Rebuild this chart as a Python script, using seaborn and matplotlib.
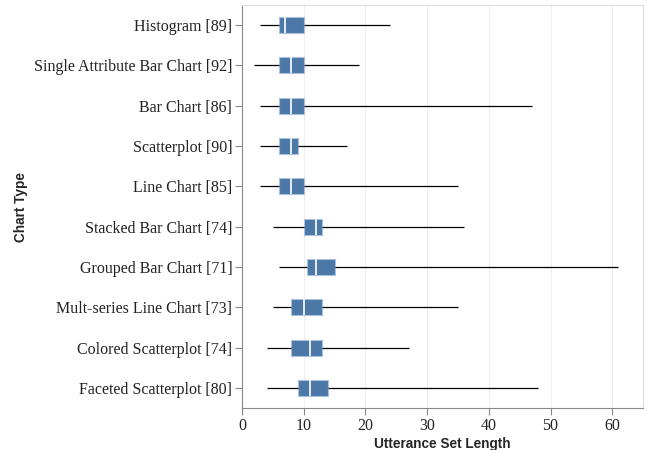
import numpy as np
import pandas as pd
import seaborn as sns
import matplotlib.pyplot as plt

# chart types (top to bottom) and five-number summaries
chart_types = [
    "Histogram [89]",
    "Single Attribute Bar Chart [92]",
    "Bar Chart [86]",
    "Scatterplot [90]",
    "Line Chart [85]",
    "Stacked Bar Chart [74]",
    "Grouped Bar Chart [71]",
    "Mult-series Line Chart [73]",
    "Colored Scatterplot [74]",
    "Faceted Scatterplot [80]",
]
mins = [3, 2, 3, 3, 3, 5, 6, 5, 4, 4]
q1s = [6, 6, 6, 6, 6, 10, 10.5, 8, 8, 9]
medians = [7, 8, 8, 8, 8, 12, 12, 10, 11, 11]
q3s = [10, 10, 10, 9, 10, 13, 15, 13, 13, 14]
maxs = [24, 19, 47, 17, 35, 36, 61, 35, 27, 48]

# five points per type: linear quantiles of them give exactly q1 / median / q3
rows = []
for name, a, b, c, d, e in zip(chart_types, mins, q1s, medians, q3s, maxs):
    for v in (a, b, c, d, e):
        rows.append({"Chart Type": name, "Utterance Set Length": v})
df = pd.DataFrame(rows)

sns.set_theme(style="white")
fig, ax = plt.subplots(figsize=(6.47, 4.5), dpi=100)
fig.subplots_adjust(left=0.374, right=0.994, top=0.989, bottom=0.093)

sns.boxplot(
    data=df, x="Utterance Set Length", y="Chart Type", order=chart_types,
    whis=(0, 100), width=0.4, color="#4c78a8", saturation=1, ax=ax,
    boxprops=dict(facecolor="#4c78a8", edgecolor="#a9c0dc", linewidth=0.8),
    medianprops=dict(color="#e8eef6", linewidth=1.4),
    whiskerprops=dict(color="black", linewidth=0.9),
    capprops=dict(linewidth=0), showcaps=False, zorder=3,
)

ax.set_xlim(0, 65)
ax.set_xticks(range(0, 61, 10))
ax.grid(axis="x", color="#eeeeee", linewidth=0.8, zorder=0)
ax.set_axisbelow(True)
for side in ("top", "right"):
    ax.spines[side].set_color("#dddddd")
    ax.spines[side].set_linewidth(0.8)
for side in ("left", "bottom"):
    ax.spines[side].set_color("#888888")
    ax.spines[side].set_linewidth(0.8)

ax.tick_params(axis="both", which="both", length=5, width=0.8, color="#888888",
               bottom=True, left=True, pad=2)
for lab in ax.get_xticklabels() + ax.get_yticklabels():
    lab.set_fontfamily("Liberation Serif")
    lab.set_fontsize(11.5)
    lab.set_color("#222222")

ax.set_xlabel("Utterance Set Length", fontfamily="Liberation Sans",
              fontweight="bold", fontsize=9.8, labelpad=2)
ax.set_ylabel("Chart Type", fontfamily="Liberation Sans",
              fontweight="bold", fontsize=9.8)
ax.yaxis.set_label_coords(-0.533, 0.5)

fig.savefig("out.png", dpi=100)
